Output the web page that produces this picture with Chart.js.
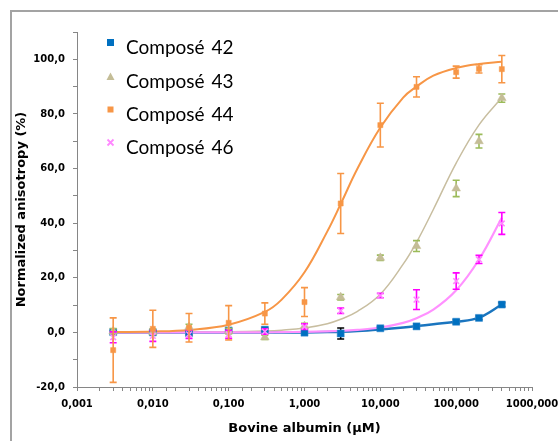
<!DOCTYPE html>
<html lang="fr">
<head>
  <meta charset="UTF-8">
  <title>Anisotropie normalisée - albumine bovine</title>
  <script src="https://cdn.jsdelivr.net/npm/chart.js"></script>
  <style>
    html, body { margin: 0; padding: 0; background: #fff; }
    #wrap { position: relative; width: 558px; height: 441px; overflow: hidden; }
    #frame { position: absolute; left: 10px; top: 10px; width: 600px; height: 500px;
             border-top: 2px solid #a3a3a3; border-left: 2px solid #a3a3a3; }
    #chart { position: absolute; left: 0; top: 0; }
    .row { position: absolute; left: 104px; height: 24px; }
    .row svg { position: absolute; left: 0; }
    .row span { position: absolute; left: 22px; top: 0; font: 19px Lato, sans-serif; color: #000; line-height: 24px; white-space: nowrap; word-spacing: 2px; }
  </style>
</head>
<body>
  <div id="wrap">
    <div id="frame"></div>
    <canvas id="chart" width="558" height="441"></canvas>
    <div id="legend"></div>
  </div>
  <script>
    // measured points (concentration in µM)
    const conc = [0.003, 0.01, 0.03, 0.1, 0.3, 1, 3, 10, 30, 100, 200, 400];
    const c42 = [0.1, 0.0, -0.3, 0.7, 1.0, -0.1, -0.4, 1.5, 2.2, 3.9, 5.3, 10.2];
    const c42Err = [0.6, 0.6, 0.6, 0.6, 0.6, 0.5, 2.0, 0.5, 0.5, 0.7, 0.7, 0.7];
    const c43 = [0.4, 0.2, 2.0, 0.5, -1.8, 2.3, 12.9, 27.3, 31.6, 52.7, 70.0, 85.8];
    const c43Err = [1.0, 1.0, 1.0, 1.0, 0.8, 1.0, 1.0, 1.0, 2.0, 3.0, 2.5, 1.5];
    const c44 = [-6.5, 1.3, 1.7, 3.5, 6.9, 11.1, 47.2, 75.9, 89.9, 95.3, 96.5, 96.4];
    const c44Err = [11.8, 6.8, 5.2, 6.3, 3.9, 5.3, 11.0, 8.0, 3.7, 2.2, 1.5, 5.0];
    const c46 = [-1.8, -1.3, -0.7, -0.7, 0.3, 2.1, 7.9, 13.5, 12.0, 18.8, 26.7, 39.9];
    const c46Err = [2.0, 2.0, 1.5, 1.5, 1.0, 1.0, 1.0, 0.8, 3.6, 3.0, 1.5, 4.0];

    // fitted curves
    const fitConc = [0.003, 0.01, 0.03, 0.1, 0.3, 0.5, 1, 2, 3, 5, 10, 20, 30, 50, 100, 200, 400];
    const fit42 = [0, 0, 0, 0, 0, 0, 0, 0.1, 0.2, 0.5, 1.1, 1.8, 2.3, 3.0, 3.9, 5.4, 10.2];
    const fit43 = [0, 0, 0.1, 0.2, 0.5, 0.8, 1.6, 3.2, 4.8, 7.7, 14, 25, 33, 45, 62, 76, 86];
    const fit44 = [0.1, 0.3, 0.9, 2.8, 7.5, 12, 22, 37, 47, 60, 75, 86, 90, 94, 96.8, 98.3, 99.1];
    const fit46 = [0, 0, 0, 0, 0, 0.1, 0.2, 0.4, 0.5, 0.9, 1.8, 3.5, 5.2, 8.3, 15.4, 26.7, 42];

    const names = ['Composé 42', 'Composé 43', 'Composé 44', 'Composé 46'];
    const yTicks = [-20, 0, 20, 40, 60, 80, 100];
    const yTickLabels = ['-20,0', '0,0', '20,0', '40,0', '60,0', '80,0', '100,0'];
    const xTicks = [0.001, 0.01, 0.1, 1, 10, 100, 1000];
    const xTickLabels = ['0,001', '0,010', '0,100', '1,000', '10,000', '100,000', '1000,000'];

    const pts = (xs, ys) => xs.map((x, i) => ({ x: x, y: ys[i] }));
    const axisGrey = '#868686';
    const tickFont = { family: 'DejaVu Sans', size: 10, weight: 'bold' };

    const errorBars = {
      id: 'errorBars',
      beforeDatasetDraw(chart, args) {
        const ds = chart.data.datasets[args.index];
        if (!ds.errors) return;
        const sx = chart.scales.x, sy = chart.scales.y, ctx = chart.ctx;
        ctx.save();
        ctx.strokeStyle = ds.errorColor;
        ctx.lineWidth = 1.6;
        ds.data.forEach((p, i) => {
          const px = sx.getPixelForValue(p.x);
          const t = sy.getPixelForValue(p.y + ds.errors[i]);
          const b = sy.getPixelForValue(p.y - ds.errors[i]);
          ctx.beginPath();
          ctx.moveTo(px, t); ctx.lineTo(px, b);
          ctx.moveTo(px - 3.5, t); ctx.lineTo(px + 3.5, t);
          ctx.moveTo(px - 3.5, b); ctx.lineTo(px + 3.5, b);
          ctx.stroke();
        });
        ctx.restore();
      }
    };

    const curve = (data, color, width, order) => ({
      data: data, showLine: true, borderColor: color, borderWidth: width,
      pointRadius: 0, tension: 0.4, fill: false, order: order
    });
    const marks = (label, data, errors, errColor, style, radius, fillC, borderC, order) => ({
      label: label, data: data, errors: errors, errorColor: errColor, showLine: false,
      pointStyle: style, pointRadius: radius, backgroundColor: fillC, borderColor: borderC,
      pointBorderWidth: style === 'crossRot' ? 1.6 : 0.5, order: order
    });

    new Chart(document.getElementById('chart'), {
      type: 'scatter',
      data: {
        datasets: [
          curve(pts(fitConc, fit42), '#1a75bf', 2.5, 9),
          curve(pts(fitConc, fit43), '#c8bea0', 1.5, 8),
          curve(pts(fitConc, fit46), '#ff91ff', 2.2, 7),
          curve(pts(fitConc, fit44), '#f79646', 2, 6),
          marks(names[0], pts(conc, c42), c42Err, '#000000', 'rect', 5, '#0070c0', '#3d8fd0', 4),
          marks(names[1], pts(conc, c43), c43Err, '#9bbb59', 'triangle', 5, '#c4bd97', '#c4bd97', 3),
          marks(names[3], pts(conc, c46), c46Err, '#ff00ff', 'crossRot', 4, '#ff88ff', '#ff88ff', 2),
          marks(names[2], pts(conc, c44), c44Err, '#f79646', 'rect', 3.6, '#f79646', '#f79646', 1)
        ]
      },
      options: {
        responsive: false,
        animation: false,
        layout: { padding: { left: 10, top: 32, right: 26, bottom: 1 } },
        plugins: { legend: { display: false }, tooltip: { enabled: false } },
        scales: {
          x: {
            type: 'logarithmic', min: 0.001, max: 1000,
            border: { color: axisGrey, width: 1 },
            grid: { drawOnChartArea: false, color: axisGrey, tickLength: 4 },
            ticks: {
              autoSkip: false, maxRotation: 0, padding: 7, color: '#000', font: tickFont,
              callback: (v) => {
                const i = xTicks.findIndex(t => Math.abs(t - v) < t * 1e-6);
                return i >= 0 ? xTickLabels[i] : '';
              }
            },
            title: { display: true, text: 'Bovine albumin (µM)', color: '#000',
                     font: { family: 'DejaVu Sans', size: 13, weight: 'bold' }, padding: { top: 4, bottom: 4 } },
            afterFit: (s) => { s.height = 53; s.paddingLeft = 0; s.paddingRight = 0; }
          },
          y: {
            min: -20, max: 110,
            border: { color: axisGrey, width: 1 },
            grid: { drawOnChartArea: false, color: axisGrey, tickLength: 4 },
            ticks: {
              stepSize: 10, padding: 8, color: '#000', font: tickFont,
              callback: (v) => {
                const i = yTicks.indexOf(v);
                return i >= 0 ? yTickLabels[i] : '';
              }
            },
            title: { display: true, text: 'Normalized anisotropy (%)', color: '#000',
                     font: { family: 'DejaVu Sans', size: 13, weight: 'bold' }, padding: { top: 4, bottom: 4 } },
            afterFit: (s) => { s.width = 67; s.paddingTop = 0; s.paddingBottom = 0; }
          }
        }
      },
      plugins: [errorBars]
    });

    // legend, top-left inside the plot
    const legendMarks = [
      '<rect x="3" y="3" width="7" height="7" fill="#0070c0"/>',
      '<polygon points="6.5,2.5 10.5,10 2.5,10" fill="#c4bd97"/>',
      '<rect x="3.5" y="3.5" width="6" height="6" fill="#f79646"/>',
      '<path d="M3.5 3.5 L9.5 9.5 M9.5 3.5 L3.5 9.5" stroke="#ff88ff" stroke-width="1.8"/>'
    ];
    const legendNames = [names[0], names[1], names[2], names[3]];
    const rowTop = [35, 69, 102, 135];
    document.getElementById('legend').innerHTML = legendNames.map((n, i) =>
      '<div class="row" style="top:' + rowTop[i] + 'px">' +
      '<svg width="13" height="13" style="top:1px">' + legendMarks[i] + '</svg>' +
      '<span>' + n + '</span></div>').join('');
  </script>
</body>
</html>
